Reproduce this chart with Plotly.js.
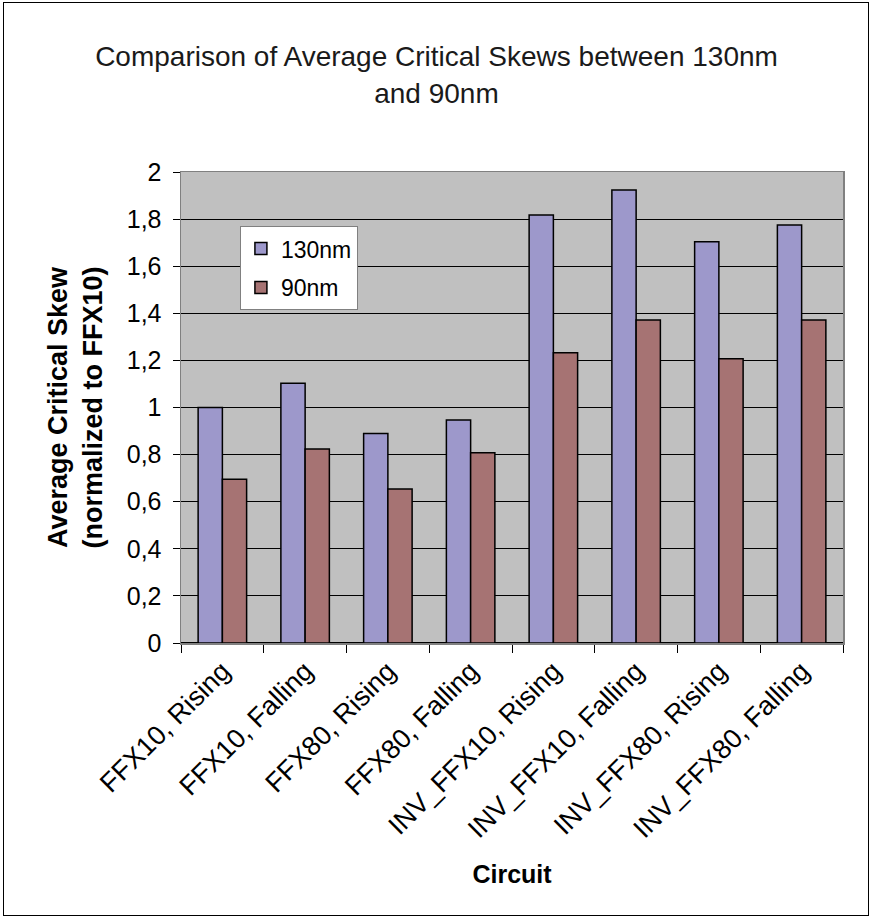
<!DOCTYPE html>
<html>
<head>
<meta charset="utf-8">
<script src="https://cdn.plot.ly/plotly-3.0.1.min.js"></script>
<style>
  html, body { margin: 0; padding: 0; background: #ffffff; }
  #wrap { position: relative; width: 873px; height: 921px; }
  #chart { width: 873px; height: 921px; }
  #frame { position: absolute; left: 3px; top: 2px; width: 866px; height: 914px;
           border: 1.5px solid #000; pointer-events: none; box-sizing: border-box; }
</style>
</head>
<body>
<div id="wrap">
  <div id="chart"></div>
  <div id="frame"></div>
</div>
<script>
const categories = [
  "FFX10, Rising", "FFX10, Falling", "FFX80, Rising", "FFX80, Falling",
  "INV_FFX10, Rising", "INV_FFX10, Falling", "INV_FFX80, Rising", "INV_FFX80, Falling"
];
const values130 = [1.00, 1.103, 0.89, 0.947, 1.817, 1.924, 1.704, 1.775];
const values90  = [0.695, 0.824, 0.654, 0.808, 1.233, 1.372, 1.207, 1.372];
const seriesNames = ["130nm", "90nm"];
const yTickVals = [0, 0.2, 0.4, 0.6, 0.8, 1, 1.2, 1.4, 1.6, 1.8, 2];

const FONT = "Liberation Sans, Arial, sans-serif";

const traces = [
  {
    type: "bar", name: seriesNames[0], x: categories, y: values130,
    legendgroup: "a",
    marker: { color: "#9D98CB", line: { color: "#000000", width: 1.5 } },
    hoverinfo: "skip"
  },
  {
    type: "bar", name: seriesNames[1], x: categories, y: values90,
    legendgroup: "b",
    marker: { color: "#A67373", line: { color: "#000000", width: 1.5 } },
    hoverinfo: "skip"
  }
];

const layout = {
  width: 873, height: 921,
  paper_bgcolor: "#ffffff",
  plot_bgcolor: "#C0C0C0",
  separators: ", ",
  font: { family: FONT, color: "#000000", size: 22 },
  margin: { l: 181, r: 30, t: 172, b: 278, pad: 0 },
  title: {
    text: "Comparison of Average Critical Skews between 130nm<br>and 90nm",
    font: { family: FONT, size: 28, color: "#1a1a1a" },
    x: 0.5, xanchor: "center", xref: "container",
    y: 0.928, yanchor: "top"
  },
  barmode: "group",
  bargap: 0.414,
  bargroupgap: 0,
  showlegend: true,
  legend: {
    x: 0.089, y: 0.885, xanchor: "left", yanchor: "top",
    bgcolor: "#ffffff", bordercolor: "#808080", borderwidth: 1,
    font: { family: FONT, size: 23, color: "#000000" },
    traceorder: "grouped", tracegroupgap: 6,
    itemwidth: 30
  },
  xaxis: {
    type: "category",
    tickangle: -45,
    tickson: "boundaries",
    ticks: "outside", ticklen: 8, tickcolor: "#000000", tickwidth: 1,
    showline: true, linecolor: "#808080", linewidth: 1.5, mirror: true,
    showgrid: false,
    tickfont: { family: FONT, size: 27, color: "#000000" },
    title: { text: "<b>Circuit</b>", font: { family: FONT, size: 25, color: "#000000" }, standoff: 22 },
    automargin: false
  },
  yaxis: {
    range: [0, 2],
    tickvals: yTickVals,
    ticks: "outside", ticklen: 7, tickcolor: "#000000", tickwidth: 1,
    ticklabelstandoff: 6,
    showline: true, linecolor: "#808080", linewidth: 1.5, mirror: true,
    showgrid: true, gridcolor: "#000000", gridwidth: 1,
    zeroline: true, zerolinecolor: "#000000", zerolinewidth: 1.5,
    tickfont: { family: FONT, size: 25, color: "#000000" },
    title: { text: "<b>Average Critical Skew<br>(normalized to FFX10)</b>", font: { family: FONT, size: 27, color: "#000000" }, standoff: 16 },
    automargin: false
  }
};

Plotly.newPlot("chart", traces, layout, { displayModeBar: false, staticPlot: true });
</script>
</body>
</html>
